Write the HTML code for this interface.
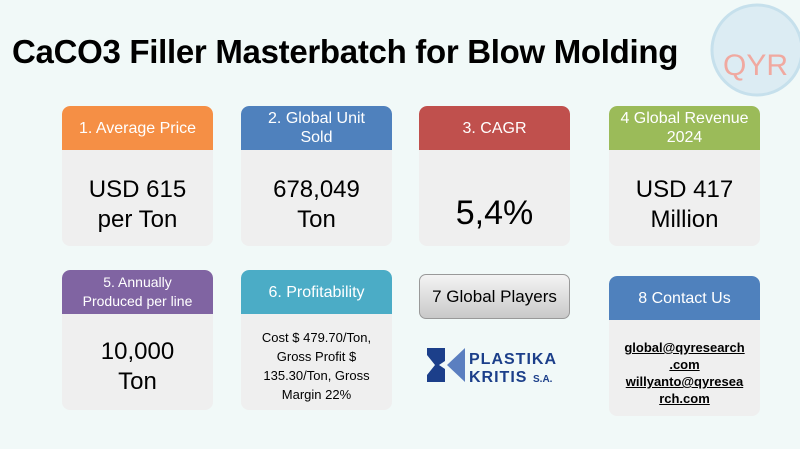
<!DOCTYPE html>
<html><head><meta charset="utf-8"><style>
body{margin:0;width:800px;height:449px;background:#f1f9f8;font-family:"Liberation Sans",sans-serif;position:relative;overflow:hidden}
.card{position:absolute;width:151px;height:140px;background:#efefef;border-radius:8px;overflow:hidden}
.hd{height:44px;color:#fff;font-size:16px;display:flex;align-items:center;justify-content:center;text-align:center;line-height:19px;border-radius:8px 8px 0 0}
.bd{position:absolute;left:0;right:0;top:44px;bottom:0;display:flex;align-items:center;justify-content:center;text-align:center;color:#000;font-size:24px;line-height:30px}
</style></head><body>
<div style="position:absolute;left:12px;top:33px;font-size:33px;font-weight:bold;letter-spacing:-0.3px">CaCO3 Filler Masterbatch for Blow Molding</div>
<svg style="position:absolute;left:705px;top:2px" width="95" height="95">
<circle cx="52" cy="48" r="45" fill="#dcecf3" stroke="#c6e0ec" stroke-width="3"/>
<text x="18" y="73" font-size="30" fill="#f0a9a0" font-family="Liberation Sans">QYR</text>
</svg>
<div class="card" style="left:62px;top:106px"><div class="hd" style="background:#f58f45">1. Average Price</div><div class="bd" style="padding-top:14px">USD 615<br>per Ton</div></div>
<div class="card" style="left:241px;top:106px"><div class="hd" style="background:#4f81bd">2. Global Unit<br>Sold</div><div class="bd" style="padding-top:14px">678,049<br>Ton</div></div>
<div class="card" style="left:419px;top:106px"><div class="hd" style="background:#c0504d">3. CAGR</div><div class="bd" style="font-size:34px;padding-top:30px">5,4%</div></div>
<div class="card" style="left:609px;top:106px"><div class="hd" style="background:#9bbb59">4 Global Revenue<br>2024</div><div class="bd" style="padding-top:14px">USD 417<br>Million</div></div>
<div class="card" style="left:62px;top:270px"><div class="hd" style="background:#8064a2;font-size:14px">5. Annually<br>Produced per line</div><div class="bd" style="padding-top:10px">10,000<br>Ton</div></div>
<div class="card" style="left:241px;top:270px"><div class="hd" style="background:#4bacc6">6. Profitability</div><div class="bd" style="font-size:13px;line-height:19px;padding-top:8px">Cost $ 479.70/Ton,<br>Gross Profit $<br>135.30/Ton, Gross<br>Margin 22%</div></div>
<div style="position:absolute;left:419px;top:274px;width:149px;height:43px;border:1px solid #999;border-radius:7px;background:linear-gradient(#f4f4f4,#c9c9c9);display:flex;align-items:center;justify-content:center;font-size:17px">7 Global Players</div>
<svg style="position:absolute;left:425px;top:345px" width="140" height="40">
<polygon points="2,3 20,3 20,16 14,20 20,24 20,37 2,37 2,30 10,20 2,10" fill="#1c3f8a"/>
<polygon points="40,3 40,37 22,20" fill="#5b7fc0"/>
<text x="44" y="19" font-size="16" font-weight="bold" fill="#1c3f8a" letter-spacing="1" font-family="Liberation Sans">PLASTIKA</text>
<text x="44" y="37" font-size="16" font-weight="bold" fill="#1c3f8a" letter-spacing="1" font-family="Liberation Sans">KRITIS</text>
<text x="108" y="37" font-size="10" font-weight="bold" fill="#1c3f8a" font-family="Liberation Sans">S.A.</text>
</svg>
<div class="card" style="left:609px;top:276px;height:140px"><div class="hd" style="background:#4f81bd;font-size:16px">8 Contact Us</div><div class="bd" style="font-size:13px;line-height:17px;font-weight:bold;padding-top:10px"><div><u>global@qyresearch<br>.com</u><br><u>willyanto@qyresea<br>rch.com</u></div></div></div>
</body></html>
